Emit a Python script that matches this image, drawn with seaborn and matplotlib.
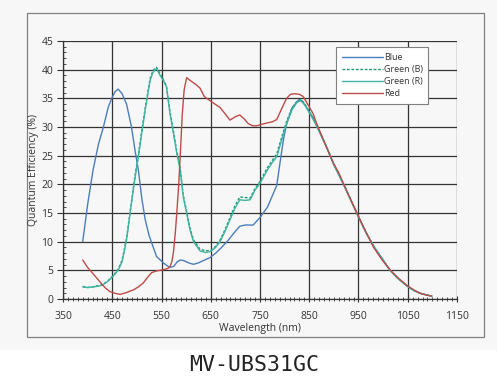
import pandas as pd
import seaborn as sns
import matplotlib.pyplot as plt
from matplotlib.patches import Rectangle
from matplotlib.ticker import MultipleLocator

# valores (longitud de onda en nm, eficiencia en %)
wl_blue = [390, 400, 411, 422, 432, 442, 450, 456, 462, 470, 479, 489, 497, 503,
           510, 517, 525, 540, 555, 567, 575, 582, 588, 595, 605, 615, 625, 635,
           648, 660, 672, 685, 697, 709, 720, 736, 750, 765, 775, 784, 791, 798,
           804, 815, 828, 835, 845, 858, 870, 885, 900, 919, 935, 950, 965, 983,
           1000, 1014, 1030, 1048, 1062, 1075, 1088, 1099]
qe_blue = [10.0, 16.5, 22.5, 27.0, 30.0, 33.5, 35.2, 36.2, 36.6, 35.8, 34.0, 30.0,
           25.5, 22.5, 17.5, 13.8, 11.0, 7.4, 6.2, 5.5, 5.7, 6.5, 6.8, 6.7, 6.3,
           6.05, 6.3, 6.7, 7.2, 8.0, 9.0, 10.2, 11.5, 12.7, 12.9, 12.9, 14.2, 16.0,
           18.0, 19.8, 24.0, 28.0, 30.5, 33.3, 34.7, 34.6, 33.3, 31.6, 29.3, 26.5,
           23.4, 20.1, 17.1, 14.3, 11.6, 8.9, 6.8, 5.0, 3.6, 2.3, 1.5, 1.0, 0.7, 0.5]

wl_green = [390, 400, 410, 420, 430, 440, 452, 462, 470, 479, 489, 496, 503, 510,
            517, 527, 533, 540, 547, 553, 560, 567, 574, 581, 588, 594, 601, 608,
            615, 628, 640, 650, 660, 669, 679, 689, 699, 709, 720, 730, 740, 750,
            765, 775, 784, 795, 804, 815, 825, 832, 840, 850, 860, 870, 885, 900,
            919, 935, 950, 965, 983, 1000, 1014, 1030, 1048, 1062, 1075, 1088, 1099]
qe_green_r = [2.1, 2.0, 2.1, 2.2, 2.4, 3.0, 4.0, 5.0, 6.5, 10.3, 16.7, 21.0, 24.8,
              29.0, 33.0, 38.2, 39.6, 40.2, 39.0, 38.2, 37.0, 32.4, 29.0, 25.4,
              22.5, 17.8, 15.0, 12.0, 10.0, 8.4, 8.1, 8.3, 9.0, 10.0, 11.8, 13.8,
              15.8, 17.3, 17.2, 17.3, 19.0, 20.2, 22.5, 23.8, 24.8, 28.0, 30.6,
              33.0, 34.3, 34.6, 34.0, 32.5, 31.0, 29.3, 26.5, 23.4, 20.1, 17.1,
              14.3, 11.6, 8.9, 6.8, 5.0, 3.6, 2.3, 1.5, 1.0, 0.7, 0.5]
qe_green_b = [2.2, 2.0, 2.1, 2.3, 2.5, 3.1, 4.1, 5.2, 6.8, 10.6, 17.0, 21.4, 25.2,
              29.4, 33.4, 38.5, 39.9, 40.4, 39.3, 38.4, 37.2, 32.8, 29.4, 25.8,
              22.8, 18.2, 15.3, 12.3, 10.3, 8.7, 8.4, 8.5, 9.2, 10.3, 12.1, 14.2,
              16.2, 17.8, 17.7, 17.6, 19.3, 20.5, 22.9, 24.2, 25.3, 28.5, 31.0,
              33.3, 34.5, 34.8, 34.2, 32.7, 31.1, 29.4, 26.6, 23.5, 20.2, 17.2,
              14.4, 11.7, 8.9, 6.8, 5.0, 3.6, 2.3, 1.5, 1.0, 0.7, 0.5]

wl_red = [390, 400, 412, 425, 435, 445, 455, 466, 478, 493, 503, 513, 522, 530,
          540, 554, 562, 567, 571, 574, 578, 581, 585, 588, 592, 596, 601, 610,
          620, 628, 637, 645, 655, 669, 680, 689, 700, 709, 718, 726, 735, 743,
          755, 764, 775, 784, 793, 804, 812, 821, 830, 838, 848, 858, 865, 880,
          899, 910, 919, 935, 950, 965, 980, 998, 1014, 1030, 1048, 1062, 1075,
          1088, 1099]
qe_red = [6.8, 5.5, 4.3, 3.0, 2.0, 1.3, 1.0, 0.8, 1.1, 1.6, 2.1, 2.8, 3.8, 4.6,
          4.9, 5.1, 5.3, 5.6, 6.5, 8.0, 11.5, 15.0, 20.0, 25.0, 32.0, 36.5, 38.6,
          38.0, 37.4, 36.8, 35.3, 34.8, 34.2, 33.4, 32.2, 31.2, 31.8, 32.1, 31.4,
          30.6, 30.2, 30.2, 30.5, 30.7, 30.9, 31.3, 33.0, 35.0, 35.7, 35.8, 35.7,
          35.3, 33.8, 32.3, 30.6, 27.5, 23.7, 22.0, 20.2, 17.2, 14.4, 11.7, 9.1,
          6.8, 5.1, 3.7, 2.4, 1.6, 1.0, 0.7, 0.5]

x_ticks = [350, 450, 550, 650, 750, 850, 950, 1050, 1150]
series_names = ["Blue", "Green (B)", "Green (R)", "Red"]
colores = {"Blue": "#4a7ebb", "Green (B)": "#1f9a78", "Green (R)": "#3fb4a0", "Red": "#be4b48"}

df = pd.concat([
    pd.DataFrame({"wl": wl_blue, "qe": qe_blue, "serie": "Blue"}),
    pd.DataFrame({"wl": wl_green, "qe": qe_green_b, "serie": "Green (B)"}),
    pd.DataFrame({"wl": wl_green, "qe": qe_green_r, "serie": "Green (R)"}),
    pd.DataFrame({"wl": wl_red, "qe": qe_red, "serie": "Red"}),
])

sns.set_theme(style="ticks")
plt.rcParams['font.family'] = ['Open Sans', 'DejaVu Sans']

fig = plt.figure(figsize=(4.97, 3.86), dpi=100)
fig.patch.set_facecolor("white")
# fondo gris claro y marco del grafico
fig.add_artist(Rectangle((0, 0.093), 1, 0.907, transform=fig.transFigure,
                         facecolor="#f7f7f7", edgecolor="none", zorder=-3))
fig.add_artist(Rectangle((0.0543, 0.1269), 0.9195, 0.8394, transform=fig.transFigure,
                         facecolor="none", edgecolor="#808080", lw=0.9, zorder=-2))

ax = fig.add_axes([0.1268, 0.2254, 0.7927, 0.6684])
ax.set_facecolor("none")

sns.lineplot(data=df, x="wl", y="qe", hue="serie", style="serie",
             hue_order=series_names, style_order=series_names,
             palette=colores,
             dashes={"Blue": "", "Green (B)": (2, 1.2), "Green (R)": "", "Red": ""},
             sort=False, estimator=None, lw=1.0, ax=ax)

ax.set_xlim(350, 1150)
ax.set_ylim(0, 45)
ax.set_xticks(x_ticks)
ax.xaxis.set_minor_locator(MultipleLocator(10))
ax.yaxis.set_major_locator(MultipleLocator(5))
ax.yaxis.set_minor_locator(MultipleLocator(1))
ax.grid(True, which="major", color="#333333", lw=0.9)
ax.set_axisbelow(True)

for s in ["top", "right"]:
    ax.spines[s].set_visible(False)
for s in ["left", "bottom"]:
    ax.spines[s].set_color("#333333")
    ax.spines[s].set_linewidth(0.9)

ax.tick_params(axis="x", which="major", direction="inout", length=5, width=0.8,
               labelsize=7.5, colors="#333333", pad=6)
ax.tick_params(axis="x", which="minor", direction="inout", length=3, width=0.6, colors="#333333")
ax.tick_params(axis="y", which="major", direction="out", length=4, width=0.8,
               labelsize=7.5, colors="#333333", pad=3)
ax.tick_params(axis="y", which="minor", direction="in", length=2.5, width=0.6, colors="#333333")

ax.set_xlabel("Wavelength (nm)", fontsize=7.5, color="#333333", labelpad=1)
ax.set_ylabel("Quantum Efficiency (%)", fontsize=7.5, color="#333333", labelpad=2)

leg = ax.legend(loc="upper left", bbox_to_anchor=(0.682, 0.993), fontsize=6.5,
                handlelength=4.6, handletextpad=0.1, borderpad=0.6, labelspacing=0.35,
                frameon=True, fancybox=False, framealpha=1)
leg.get_frame().set_edgecolor("#808080")
leg.get_frame().set_linewidth(0.8)
for t in leg.get_texts():
    t.set_color("#333333")

fig.text(0.511, 0.054, "MV-UBS31GC", ha="center", va="center", fontsize=15.5,
         family="DejaVu Sans Mono", color="#222222")

fig.savefig("out.png", dpi=100)
